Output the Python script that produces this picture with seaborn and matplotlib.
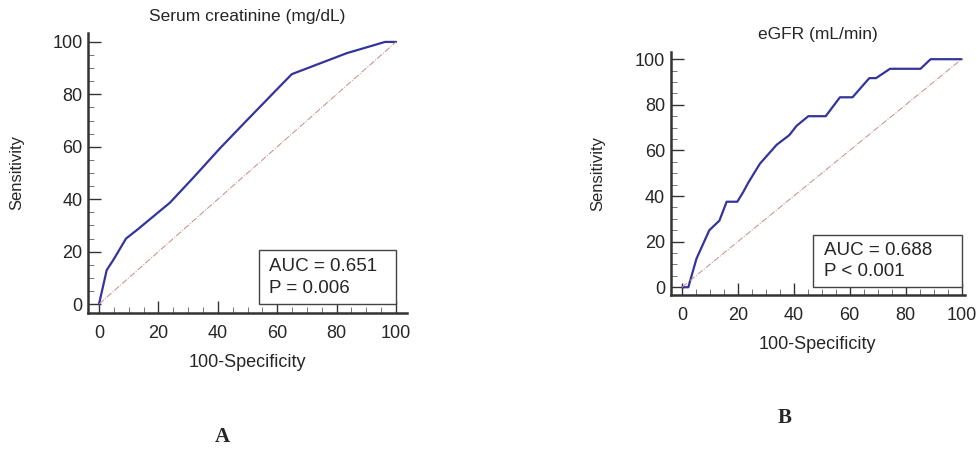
import numpy as np
import pandas as pd
import matplotlib
matplotlib.use('Agg')
import matplotlib.pyplot as plt
import seaborn as sns
from matplotlib.ticker import MultipleLocator
from matplotlib.patches import Rectangle

# panel A - serum creatinine ROC
fpr_a = [0, 2.6, 4.8, 9.1, 12.7, 23.9, 32.3, 40.7, 49.7, 58.1, 64.9, 83.4, 96.3, 100]
tpr_a = [0, 13.0, 16.8, 25.0, 28.2, 38.7, 48.9, 59.4, 70.0, 79.8, 87.7, 95.7, 100, 100]

# panel B - eGFR ROC
fpr_b = [0.2, 2.3, 5.2, 9.8, 13.4, 16.0, 19.8, 21.9, 23.7, 27.9, 33.9, 38.4, 41.0, 45.2,
         51.4, 56.5, 61.0, 67.0, 69.4, 74.4, 85.3, 88.9, 100]
tpr_b = [0, 0, 12.5, 25.0, 29.2, 37.5, 37.5, 41.7, 45.8, 54.2, 62.5, 66.7, 70.8, 75.0,
         75.0, 83.3, 83.3, 91.7, 91.7, 95.8, 95.8, 100, 100]

diag = [0, 100]

titles = ['Serum creatinine (mg/dL)', 'eGFR (mL/min)']
stats = [('AUC = 0.651', 'P = 0.006'), ('AUC = 0.688', 'P < 0.001')]
panel_tags = ['A', 'B']

sns.set_style('ticks')
plt.rcParams['font.family'] = ['Liberation Sans', 'DejaVu Sans']

fig = plt.figure(figsize=(9.77, 4.49), dpi=100)
ax_a = fig.add_axes([0.0901, 0.3029, 0.3265, 0.6236])
ax_b = fig.add_axes([0.6865, 0.343, 0.3012, 0.5419])

curve_col = '#34349a'
diag_col = '#c48a8a'

# box [x0, y0, w, h] and text rows in axes fractions, per panel
boxes = [(0.536, 0.032, 0.430, 0.193), (0.4835, 0.033, 0.5065, 0.214)]
text_pos = [(0.567, 0.165, 0.089), (0.521, 0.182, 0.096)]
ylab_pad = [20, 21]

panels = [
    (ax_a, fpr_a, tpr_a, (-3.7, 103.7), (-3.4, 103.4)),
    (ax_b, fpr_b, tpr_b, (-4.0, 101.2), (-3.4, 103.3)),
]

for i, (ax, fx, ty, xl, yl) in enumerate(panels):
    df = pd.DataFrame({'fpr': fx, 'tpr': ty})
    sns.lineplot(data=df, x='fpr', y='tpr', ax=ax, color=curve_col, lw=1.6,
                 sort=False, estimator=None)
    ax.plot(diag, diag, color=diag_col, lw=0.7, ls='-.')
    ax.set_xlim(*xl)
    ax.set_ylim(*yl)
    ax.xaxis.set_major_locator(MultipleLocator(20))
    ax.yaxis.set_major_locator(MultipleLocator(20))
    ax.xaxis.set_minor_locator(MultipleLocator(5))
    ax.yaxis.set_minor_locator(MultipleLocator(5))
    ax.tick_params(which='major', direction='in', length=9, width=1, labelsize=13,
                   color='#333333')
    ax.tick_params(axis='x', which='major', pad=9)
    ax.tick_params(axis='y', which='major', pad=4)
    ax.tick_params(which='minor', direction='in', length=4, width=0.7, color='#777777')
    for s in ['top', 'right']:
        ax.spines[s].set_visible(False)
    for s in ['left', 'bottom']:
        ax.spines[s].set_linewidth(1.8)
        ax.spines[s].set_color('#333333')
    ax.set_xlabel('100-Specificity', fontsize=13, labelpad=8)
    ax.set_ylabel('Sensitivity', fontsize=12, labelpad=ylab_pad[i])
    ax.set_title(titles[i], fontsize=12.5, pad=9)
    bx = boxes[i]
    ax.add_patch(Rectangle((bx[0], bx[1]), bx[2], bx[3], transform=ax.transAxes,
                           fc='white', ec='#444444', lw=1, zorder=5))
    tx, ty1, ty2 = text_pos[i]
    ax.text(tx, ty1, stats[i][0], transform=ax.transAxes, fontsize=13.5,
            va='center', ha='left', zorder=6)
    ax.text(tx, ty2, stats[i][1], transform=ax.transAxes, fontsize=13.5,
            va='center', ha='left', zorder=6)

fig.text(222 / 977, 1 - 437 / 449, panel_tags[0], fontsize=15, fontweight='bold',
         family='Liberation Serif', ha='center', va='center')
fig.text(785 / 977, 1 - 418 / 449, panel_tags[1], fontsize=15, fontweight='bold',
         family='Liberation Serif', ha='center', va='center')

fig.savefig('out.png', dpi=100)
